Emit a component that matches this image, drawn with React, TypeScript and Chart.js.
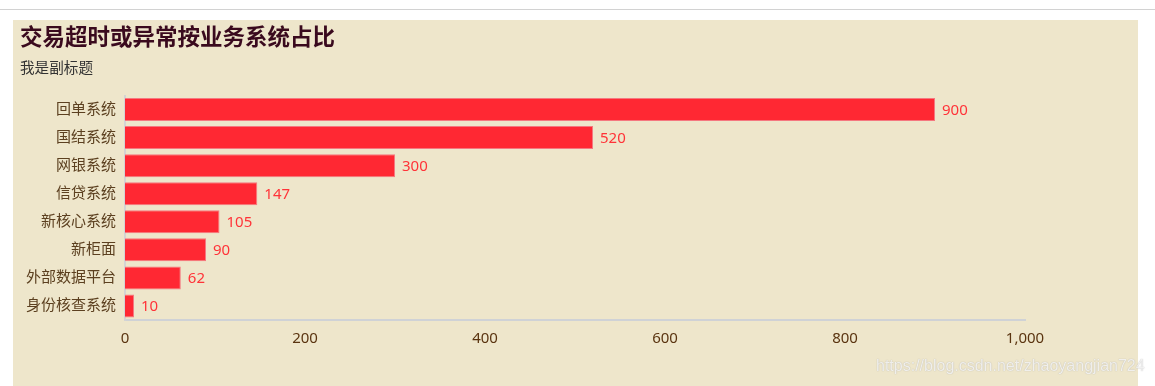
import React, { useEffect, useRef } from "react";
import { Chart, registerables } from "chart.js";

Chart.register(...registerables);

const categories = ["回单系统", "国结系统", "网银系统", "信贷系统", "新核心系统", "新柜面", "外部数据平台", "身份核查系统"];
const values = [900, 520, 300, 147, 105, 90, 62, 10];
const xTicks = [0, 200, 400, 600, 800, 1000];
const titleText = "交易超时或异常按业务系统占比";
const subtitleText = "我是副标题";
const watermarkText = "https://blog.csdn.net/zhaoyangjian724";

const FONT = '"Noto Sans", "Noto Sans CJK SC", sans-serif';

const valueLabels = {
  id: "valueLabels",
  afterDatasetsDraw(chart: any) {
    const ctx = chart.ctx;
    const meta = chart.getDatasetMeta(0);
    ctx.save();
    ctx.font = `15px ${FONT}`;
    ctx.fillStyle = "#ff3338";
    ctx.textAlign = "left";
    ctx.textBaseline = "middle";
    meta.data.forEach((bar: any, i: number) => {
      ctx.fillText(String(values[i]), bar.x + 7, bar.y + 1);
    });
    ctx.restore();
  },
};

export default function App() {
  const ref = useRef<HTMLCanvasElement | null>(null);
  useEffect(() => {
    if (!ref.current) return;
    const chart = new Chart(ref.current, {
      type: "bar",
      data: {
        labels: categories,
        datasets: [
          {
            data: values,
            backgroundColor: "#ff2833",
            borderColor: "#f57880",
            borderWidth: 1,
            barPercentage: 0.82,
            categoryPercentage: 1,
          },
        ],
      },
      options: {
        indexAxis: "y",
        animation: false,
        responsive: false,
        layout: { padding: { left: 7, right: 113, top: 0, bottom: 0 } },
        plugins: {
          legend: { display: false },
          tooltip: { enabled: false },
          title: {
            display: true,
            text: titleText,
            align: "start",
            color: "#3a0a1e",
            font: { family: FONT, size: 22.5, weight: "bold" },
            padding: { top: 5, bottom: 8 },
          },
          subtitle: {
            display: true,
            text: subtitleText,
            align: "start",
            color: "#333333",
            font: { family: FONT, size: 14.6 },
            padding: { top: 0, bottom: 18 },
          },
        },
        scales: {
          x: {
            min: 0,
            max: 1000,
            afterBuildTicks(scale: any) {
              scale.ticks = xTicks.map((v) => ({ value: v }));
            },
            afterFit(scale: any) {
              scale.height = 66;
            },
            grid: { display: false, drawTicks: false },
            border: { display: true, color: "#cfd2d6", width: 2 },
            ticks: {
              padding: 10,
              color: "#5a3410",
              font: { family: FONT, size: 15 },
            },
          },
          y: {
            afterFit(scale: any) {
              scale.width = 105;
            },
            grid: { display: false, drawTicks: false },
            border: { display: true, color: "#d4d4d4", width: 2 },
            ticks: {
              padding: 9,
              color: "#5c4020",
              font: { family: FONT, size: 15 },
            },
          },
        },
      },
      plugins: [valueLabels],
    });
    return () => chart.destroy();
  }, []);

  return (
    <div style={{ position: "absolute", left: 0, top: 0, width: 1155, height: 386, background: "#ffffff", overflow: "hidden" }}>
      <div style={{ position: "absolute", left: 0, top: 9, width: 1155, height: 1, background: "#d2d2d2" }} />
      <div style={{ position: "absolute", left: 13, top: 20, width: 1125, height: 366, background: "#eee6cb" }}>
        <canvas ref={ref} width={1125} height={366} style={{ display: "block" }} />
      </div>
      <div
        style={{
          position: "absolute",
          left: 876,
          top: 357,
          fontFamily: '"Liberation Sans", Arial, sans-serif',
          fontSize: 16,
          color: "rgba(255,255,255,0.8)",
          textShadow: "0 0 1px rgba(120,120,120,0.6)",
          whiteSpace: "nowrap",
        }}
      >
        {watermarkText}
      </div>
    </div>
  );
}
